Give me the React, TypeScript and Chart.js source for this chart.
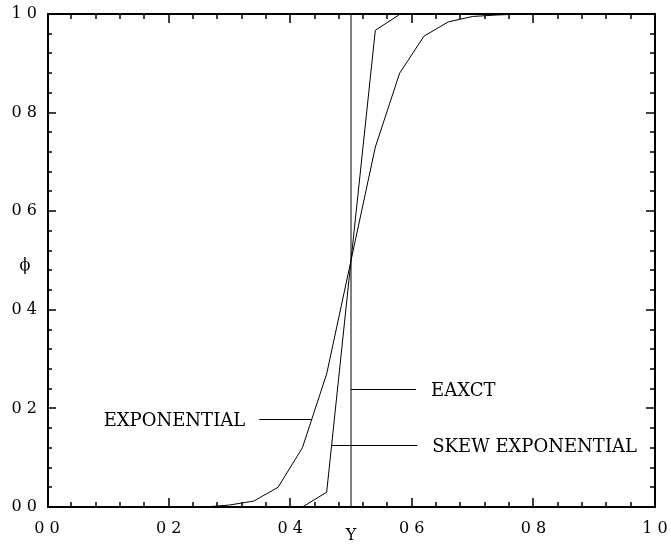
import React, { useEffect, useRef } from "react";
import { Chart, registerables } from "chart.js";

Chart.register(...registerables);

// Exponential solution (symmetric about Y = 0.5)
const exponentialY = [0, 0.26, 0.3, 0.34, 0.38, 0.42, 0.46, 0.5, 0.54, 0.58, 0.62, 0.66, 0.7, 0.74, 0.78, 1];
const exponentialPhi = [0, 0, 0.004, 0.012, 0.04, 0.12, 0.27, 0.5, 0.73, 0.88, 0.955, 0.984, 0.995, 0.998, 1, 1];

// Skew exponential solution
const skewY = [0, 0.42, 0.46, 0.5, 0.54, 0.58, 1];
const skewPhi = [0, 0, 0.03, 0.5, 0.967, 0.999, 1];

// Exact (step) solution
const exactY = [0, 0.5, 0.5, 1];
const exactPhi = [0, 0, 1, 1];

// Axis ticks
const tickValues = [0, 0.2, 0.4, 0.6, 0.8, 1.0];
const tickLabels = ["0 0", "0 2", "0 4", "0 6", "0 8", "1 0"];
const minorStep = 0.04;

// Curve labels: text, leader line start Y, leader line end Y, phi, side
const labelTexts = ["EXPONENTIAL", "EAXCT", "SKEW EXPONENTIAL"];
const labelLineFromY = [0.349, 0.5, 0.468];
const labelLineToY = [0.436, 0.607, 0.609];
const labelPhi = [0.1785, 0.239, 0.126];
const labelSide = ["left", "right", "right"];

const FONT = "'DejaVu Serif', serif";

const toPoints = (xs: number[], ys: number[]) => xs.map((x, i) => ({ x, y: ys[i] }));

const zeroPadding = (s: any) => {
  s.paddingLeft = 0;
  s.paddingRight = 0;
  s.paddingTop = 0;
  s.paddingBottom = 0;
};

export default function App() {
  const ref = useRef<HTMLCanvasElement | null>(null);

  useEffect(() => {
    if (!ref.current) return;

    const framePlugin = {
      id: "frame",
      afterDraw(chart: any) {
        const ctx = chart.ctx;
        const xs = chart.scales.x;
        const ys = chart.scales.y;
        const { left, right, top, bottom } = chart.chartArea;
        ctx.save();
        ctx.strokeStyle = "#000";
        // box
        ctx.lineWidth = 2;
        ctx.strokeRect(left + 1, top, right - left - 1, bottom - top);
        // ticks
        ctx.lineWidth = 1.5;
        const n = Math.round(1 / minorStep);
        for (let i = 1; i < n; i++) {
          const v = i * minorStep;
          const major = i % 5 === 0;
          const len = major ? 9 : 5;
          const px = Math.round(xs.getPixelForValue(v));
          const py = Math.round(ys.getPixelForValue(v));
          ctx.beginPath();
          ctx.moveTo(px, bottom);
          ctx.lineTo(px, bottom - len);
          ctx.moveTo(px, top);
          ctx.lineTo(px, top + len);
          ctx.moveTo(left, py);
          ctx.lineTo(left + len, py);
          ctx.moveTo(right, py);
          ctx.lineTo(right - len, py);
          ctx.stroke();
        }
        // leader lines and labels
        ctx.lineWidth = 1;
        ctx.fillStyle = "#000";
        ctx.font = `18px ${FONT}`;
        ctx.textBaseline = "middle";
        labelTexts.forEach((t, i) => {
          const y = Math.round(ys.getPixelForValue(labelPhi[i])) + 0.5;
          const x0 = xs.getPixelForValue(labelLineFromY[i]);
          const x1 = xs.getPixelForValue(labelLineToY[i]);
          ctx.beginPath();
          ctx.moveTo(x0, y);
          ctx.lineTo(x1, y);
          ctx.stroke();
          if (labelSide[i] === "left") {
            ctx.textAlign = "right";
            ctx.fillText(t, x0 - 14, y + 2);
          } else {
            ctx.textAlign = "left";
            ctx.fillText(t, x1 + 15, y + 2);
          }
        });
        // axis titles
        ctx.font = `16px ${FONT}`;
        ctx.textAlign = "center";
        ctx.fillText("Y", xs.getPixelForValue(0.5), bottom + 29);
        ctx.fillText("ϕ", left - 22, ys.getPixelForValue(0.5) + 5);
        ctx.restore();
      },
    };

    const chart = new Chart(ref.current, {
      type: "scatter",
      data: {
        datasets: [
          { label: "EXPONENTIAL", data: toPoints(exponentialY, exponentialPhi) },
          { label: "SKEW EXPONENTIAL", data: toPoints(skewY, skewPhi) },
          { label: "EXACT", data: toPoints(exactY, exactPhi) },
        ].map((d) => ({
          ...d,
          showLine: true,
          borderColor: "#000",
          borderWidth: 1,
          pointRadius: 0,
          tension: 0,
          fill: false,
        })),
      },
      plugins: [framePlugin],
      options: {
        animation: false,
        responsive: false,
        devicePixelRatio: 1,
        clip: false,
        layout: { padding: { top: 14, right: 16, left: 0, bottom: 0 } },
        plugins: { legend: { display: false }, tooltip: { enabled: false } },
        scales: {
          x: {
            type: "linear",
            min: 0,
            max: 1,
            grid: { display: false, drawTicks: false },
            border: { display: false },
            afterBuildTicks: (s: any) => {
              s.ticks = tickValues.map((v) => ({ value: v }));
            },
            afterFit: (s: any) => {
              s.height = 37;
              zeroPadding(s);
            },
            ticks: {
              padding: 12,
              color: "#000",
              maxRotation: 0,
              font: { family: FONT, size: 16 },
              callback: (_v: any, i: number) => tickLabels[i],
            },
          },
          y: {
            type: "linear",
            min: 0,
            max: 1,
            grid: { display: false, drawTicks: false },
            border: { display: false },
            afterBuildTicks: (s: any) => {
              s.ticks = tickValues.map((v) => ({ value: v }));
            },
            afterFit: (s: any) => {
              s.width = 47;
              zeroPadding(s);
            },
            ticks: {
              padding: 10,
              color: "#000",
              font: { family: FONT, size: 16 },
              callback: (_v: any, i: number) => tickLabels[i],
            },
          },
        },
      } as any,
    });
    return () => chart.destroy();
  }, []);

  return (
    <div style={{ position: "absolute", left: 0, top: 0, width: 671, height: 544, background: "#fff" }}>
      <canvas ref={ref} width={671} height={544} style={{ display: "block" }} />
    </div>
  );
}
